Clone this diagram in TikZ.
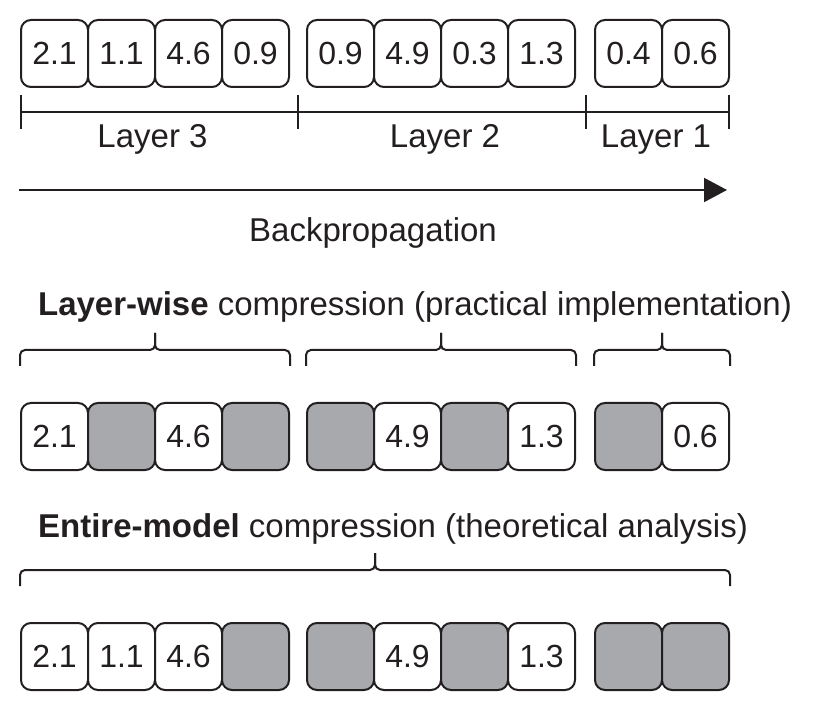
\documentclass[tikz,border=0pt]{standalone}
\usepackage{fontspec}
\setmainfont{Liberation Sans}
\usetikzlibrary{arrows.meta,calc}
\definecolor{ink}{HTML}{231F20}
\definecolor{pruned}{HTML}{A7A9AC}
\tikzset{
  cell/.style={draw=ink, fill=white, line width=2pt, rounded corners=10pt,
    minimum width=67pt, minimum height=67pt, inner sep=0pt, text=ink,
    font=\fontsize{32}{38}\selectfont},
  cellgone/.style={cell, fill=pruned},
  labeltext/.style={text=ink, font=\fontsize{33}{40}\selectfont, anchor=base, inner sep=0pt},
  ruler/.style={draw=ink, line width=2pt},
  braceline/.style={draw=ink, line width=2pt, rounded corners=5pt},
}
\begin{document}
\begin{tikzpicture}[x=1pt,y=-1pt]
\useasboundingbox (0,0) rectangle (814,708);

% full gradient
\foreach \x/\v [count=\i] in {54.5/2.1,121.5/1.1,188.5/4.6,255.5/0.9,
  340.5/0.9,407.5/4.9,474.5/0.3,541.5/1.3,628.5/0.4,695.5/0.6}
  \node[cell] (g\i) at (\x,53.5) {\v};

% layer ruler
\coordinate (t0) at (21,112);
\coordinate (t1) at (298,112);
\coordinate (t2) at (586,112);
\coordinate (t3) at (729,112);
\draw[ruler] (t0)--(t3);
\foreach \t in {t0,t1,t2,t3}
  \draw[ruler] ($(\t)+(0,-17)$)--($(\t)+(0,17)$);
\node[labeltext] (layer3) at (152.5,148) {Layer 3};
\node[labeltext] (layer2) at (445,148) {Layer 2};
\node[labeltext] (layer1) at (656,148) {Layer 1};

\coordinate (bpstart) at (19,190);
\coordinate (bpend) at (727,190);
\draw[ruler,-{Triangle[length=23pt,width=24pt]}] (bpstart)--(bpend);
\node[labeltext] (bp) at (373,242) {Backpropagation};

% layer-wise
\node[labeltext] (lwtitle) at (415,316) {\textbf{Layer-wise} compression (practical implementation)};
\foreach \x/\v/\s [count=\i] in {54.5/2.1/cell,121.5/{}/cellgone,188.5/4.6/cell,255.5/{}/cellgone,
  340.5/{}/cellgone,407.5/4.9/cell,474.5/{}/cellgone,541.5/1.3/cell,628.5/{}/cellgone,695.5/0.6/cell}
  \node[\s] (lw\i) at (\x,436.5) {\v};

% entire model
\node[labeltext] (emtitle) at (393,537) {\textbf{Entire-model} compression (theoretical analysis)};
\foreach \x/\v/\s [count=\i] in {54.5/2.1/cell,121.5/1.1/cell,188.5/4.6/cell,255.5/{}/cellgone,
  340.5/{}/cellgone,407.5/4.9/cell,474.5/{}/cellgone,541.5/1.3/cell,628.5/{}/cellgone,695.5/{}/cellgone}
  \node[\s] (em\i) at (\x,656.5) {\v};

% braces
\foreach \a/\b in {lw1/lw4,lw5/lw8,lw9/lw10,em1/em10}{
  \draw[braceline] ($(\a.north west)+(0,-36)$) |- ($(\a.north west)!0.5!(\b.north east)+(0,-52)$) -- ++(0,-17);
  \draw[braceline] ($(\b.north east)+(0,-36)$) |- ($(\a.north west)!0.5!(\b.north east)+(0,-52)$) -- ++(0,-17);
}
\end{tikzpicture}
\end{document}
